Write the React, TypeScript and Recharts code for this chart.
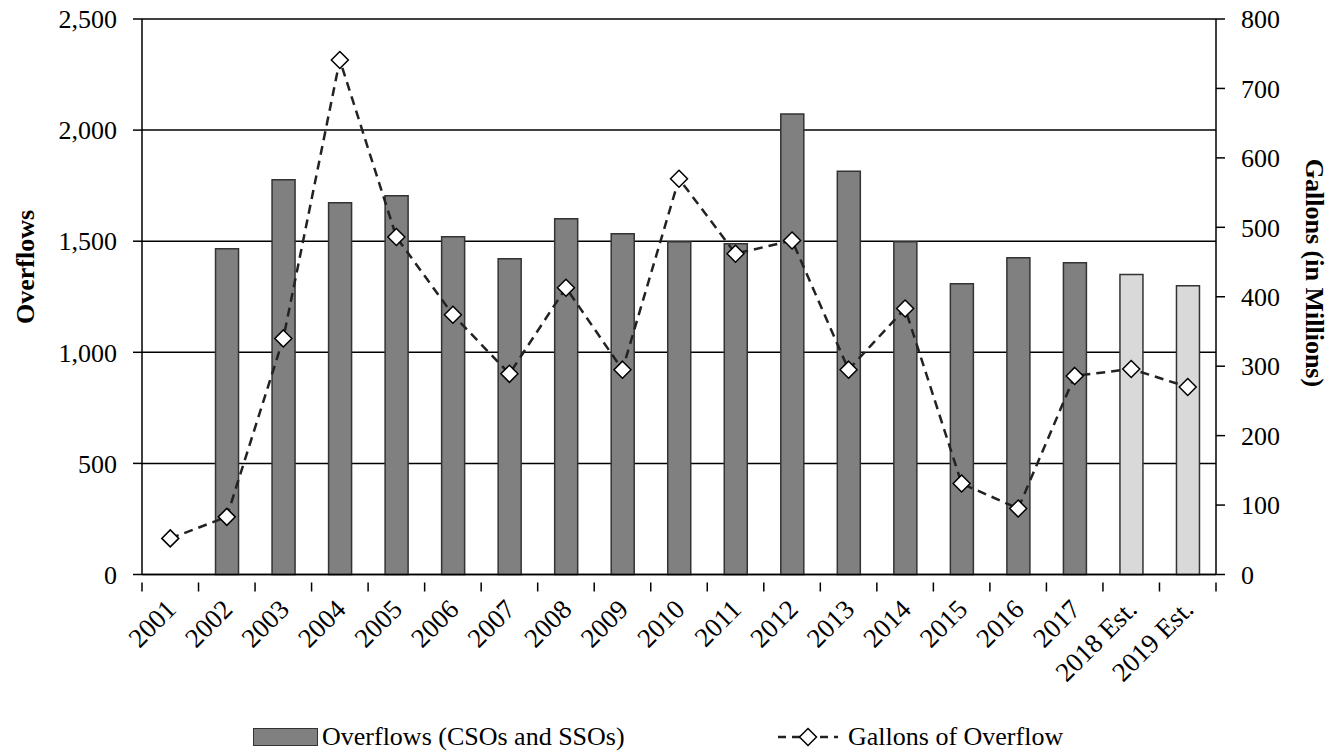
import React from 'react';
import { ComposedChart, Bar, Line, XAxis, YAxis, CartesianGrid, Cell, Legend } from 'recharts';

const YEARS = ['2001', '2002', '2003', '2004', '2005', '2006', '2007', '2008', '2009', '2010',
  '2011', '2012', '2013', '2014', '2015', '2016', '2017', '2018 Est.', '2019 Est.'];
const OVERFLOWS = [null, 1466, 1776, 1673, 1704, 1520, 1421, 1601, 1533, 1497,
  1488, 2073, 1815, 1497, 1308, 1425, 1403, 1350, 1300];
const GALLONS = [52, 83, 340, 741, 486, 374, 289, 413, 295, 570,
  462, 481, 295, 383, 131, 95, 286, 296, 270];
const ESTIMATED = [false, false, false, false, false, false, false, false, false, false,
  false, false, false, false, false, false, false, true, true];

const LEFT_TICKS = [0, 500, 1000, 1500, 2000, 2500];
const RIGHT_TICKS = [0, 100, 200, 300, 400, 500, 600, 700, 800];

const FONT = '"Liberation Serif", "Times New Roman", serif';
const W = 1340;
const H = 752;
const PLOT_LEFT = 142;
const PLOT_RIGHT = 1216;
const PLOT_BOTTOM = 574.5;
const X_AXIS_H = 100;

const data = YEARS.map((year, i) => ({
  year,
  overflows: OVERFLOWS[i],
  gallons: GALLONS[i],
  est: ESTIMATED[i],
}));

const fmt = (v: number) => v.toLocaleString('en-US');

// category tick marks sit between the bars, labels hang off the centre at -45deg
function XTick(props: any) {
  const { x, y, payload, index } = props;
  const step = (PLOT_RIGHT - PLOT_LEFT) / YEARS.length;
  const left = x - step / 2;
  const ax = x + 3;
  const ay = y + 24;
  return (
    <g>
      <line x1={left} y1={y} x2={left} y2={y + 9} stroke="#000" strokeWidth={1.5} />
      {index === YEARS.length - 1 && (
        <line x1={x + step / 2} y1={y} x2={x + step / 2} y2={y + 9} stroke="#000" strokeWidth={1.5} />
      )}
      <text
        x={ax}
        y={ay}
        transform={`rotate(-45 ${ax} ${ay})`}
        textAnchor="end"
        dominantBaseline="middle"
        fontFamily={FONT}
        fontSize={27}
        fill="#000"
      >
        {payload.value}
      </text>
    </g>
  );
}

function Diamond(props: any) {
  const { cx, cy } = props;
  if (cx == null || cy == null) return null;
  const r = 8.5;
  return (
    <polygon
      points={`${cx},${cy - r} ${cx + r},${cy} ${cx},${cy + r} ${cx - r},${cy}`}
      fill="#fff"
      stroke="#000"
      strokeWidth={1.5}
    />
  );
}

function LegendContent() {
  const text = { fontFamily: FONT, fontSize: 26, color: '#000' };
  return (
    <div style={{ position: 'relative', height: 30 }}>
      <div style={{ position: 'absolute', left: 253, top: 6, width: 63, height: 16, background: '#808080', border: '1.5px solid #333' }} />
      <span style={{ ...text, position: 'absolute', left: 322, top: 0, lineHeight: '30px' }}>Overflows (CSOs and SSOs)</span>
      <svg style={{ position: 'absolute', left: 776, top: 0 }} width={64} height={30}>
        <line x1={2} y1={15} x2={62} y2={15} stroke="#222" strokeWidth={2.5} strokeDasharray="8 6" />
        <polygon points="32,6.5 40.5,15 32,23.5 23.5,15" fill="#fff" stroke="#000" strokeWidth={1.5} />
      </svg>
      <span style={{ ...text, position: 'absolute', left: 848, top: 0, lineHeight: '30px' }}>Gallons of Overflow</span>
    </div>
  );
}

export default function App() {
  return (
    <div style={{ position: 'absolute', left: 0, top: 0, width: W, height: H, background: '#fff' }}>
      <ComposedChart
        width={W}
        height={H}
        data={data}
        margin={{ top: 19, right: 0, left: 0, bottom: H - PLOT_BOTTOM - X_AXIS_H }}
      >
        <CartesianGrid yAxisId="left" vertical={false} stroke="#000" strokeWidth={1.5} />
        <XAxis
          dataKey="year"
          interval={0}
          height={X_AXIS_H}
          tickLine={false}
          axisLine={{ stroke: '#000', strokeWidth: 1.5 }}
          tick={<XTick />}
        />
        <YAxis
          yAxisId="left"
          width={PLOT_LEFT}
          domain={[0, 2500]}
          ticks={LEFT_TICKS}
          tickFormatter={fmt}
          tickSize={9}
          tickMargin={16}
          axisLine={{ stroke: '#000', strokeWidth: 1.5 }}
          tickLine={{ stroke: '#000', strokeWidth: 1.5 }}
          tick={{ fontFamily: FONT, fontSize: 26, fill: '#000' }}
          label={{
            content: () => (
              <text x={34} y={267} transform="rotate(-90 34 267)" textAnchor="middle"
                fontFamily={FONT} fontSize={26} fontWeight="bold" fill="#000">Overflows</text>
            ),
          }}
        />
        <YAxis
          yAxisId="right"
          orientation="right"
          width={W - PLOT_RIGHT}
          domain={[0, 800]}
          ticks={RIGHT_TICKS}
          tickSize={9}
          tickMargin={16}
          axisLine={{ stroke: '#000', strokeWidth: 1.5 }}
          tickLine={{ stroke: '#000', strokeWidth: 1.5 }}
          tick={{ fontFamily: FONT, fontSize: 26, fill: '#000' }}
          label={{
            content: () => (
              <text x={1306} y={273} transform="rotate(90 1306 273)" textAnchor="middle"
                fontFamily={FONT} fontSize={26} fontWeight="bold" fill="#000">Gallons (in Millions)</text>
            ),
          }}
        />
        <Legend
          verticalAlign="middle"
          align="center"
          layout="horizontal"
          wrapperStyle={{ top: 722, left: 0, width: W, height: 30 }}
          content={<LegendContent />}
        />
        <Bar
          yAxisId="left"
          dataKey="overflows"
          name="Overflows (CSOs and SSOs)"
          barSize={23}
          stroke="#333"
          strokeWidth={1.5}
          isAnimationActive={false}
        >
          {data.map((d, i) => (
            <Cell key={i} fill={d.est ? '#d9d9d9' : '#808080'} />
          ))}
        </Bar>
        <Line
          yAxisId="right"
          dataKey="gallons"
          name="Gallons of Overflow"
          type="linear"
          stroke="#222"
          strokeWidth={2.5}
          strokeDasharray="9 6"
          dot={<Diamond />}
          activeDot={false}
          isAnimationActive={false}
        />
      </ComposedChart>
    </div>
  );
}
